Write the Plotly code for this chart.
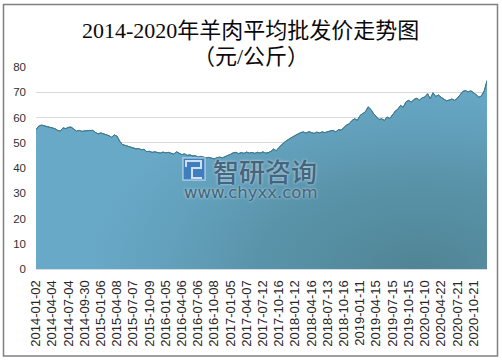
import plotly.graph_objects as go

tick_labels = ["2014-01-02","2014-04-04","2014-07-04","2014-09-30","2015-01-06","2015-04-08","2015-07-07",
               "2015-10-09","2016-01-05","2016-04-06","2016-07-06","2016-10-08","2017-01-05","2017-04-07",
               "2017-07-12","2017-10-16","2018-01-12","2018-04-16","2018-07-13","2018-10-16","2019-01-11",
               "2019-04-15","2019-07-15","2019-10-15","2020-01-10","2020-04-22","2020-07-21","2020-10-21"]
prices = [55.2,56.6,57.0,56.7,56.2,56.0,55.8,55.6,54.9,
          54.6,55.9,55.6,56.1,56.2,55.4,54.6,54.9,54.5,
          54.7,54.8,54.6,54.9,54.1,53.5,53.9,53.6,53.0,
          52.8,52.2,53.1,52.6,50.6,49.3,49.0,48.7,48.2,
          48.0,47.6,47.7,47.2,47.4,46.5,46.6,46.2,46.4,
          46.1,45.9,46.3,46.0,46.2,45.8,45.5,46.4,45.9,
          45.3,45.6,45.0,45.2,44.8,44.9,44.3,44.6,44.2,
          44.0,44.2,43.8,43.6,44.1,44.3,44.0,44.6,45.0,
          45.4,46.0,46.2,45.7,46.1,45.8,46.3,45.9,46.2,
          45.8,46.2,45.9,46.4,45.9,46.1,46.6,47.5,46.8,
          48.2,49.4,50.2,51.0,51.8,52.3,52.9,53.5,54.0,
          54.3,53.8,54.4,54.1,53.7,54.2,53.9,54.3,54.0,
          54.4,54.6,54.9,54.3,55.2,55.0,56.2,57.0,57.5,
          58.8,59.5,58.9,60.8,61.5,62.3,64.2,63.2,61.5,
          60.3,59.2,59.5,58.8,60.2,59.6,61.0,62.5,63.3,
          64.8,64.0,66.2,66.8,66.1,67.2,67.6,66.9,67.8,
          68.1,69.4,67.4,69.8,68.3,68.9,68.0,67.2,66.6,
          66.9,67.3,66.8,67.6,68.9,70.3,70.7,70.1,70.6,
          69.9,69.0,68.0,68.6,70.6,74.6]
y_ticks = [0,10,20,30,40,50,60,70,80]
title_lines = ["2014-2020年羊肉平均批发价走势图", "（元/公斤）"]

W, H = 502, 360
L, R, T, B = 36, 487, 67, 269
px = lambda x: (x - L) / (R - L)
py = lambda y: (B - y) / (B - T)
x = list(range(len(prices)))

# Glow of the fill: an off-axis polygon whose bounding box is centred on the lower right of the plot
glow_left, glow_center = 20, 142
glow_x = x[glow_left:] + [2*glow_center - glow_left, glow_center, glow_left]
glow_y = prices[glow_left:] + [0, -max(prices), 0]

fig = go.Figure()
fig.add_trace(go.Scatter(x=x, y=prices, mode="lines", fill="tozeroy",
    line=dict(color="#3f7a92", width=1), hoverinfo="skip", fillcolor="#68a9c7"))
fig.add_trace(go.Scatter(x=glow_x, y=glow_y, mode="none", fill="toself", hoverinfo="skip",
    fillgradient=dict(type="radial", colorscale=[
        [0, "rgba(70,118,128,0.72)"], [0.5, "rgba(72,122,135,0.45)"], [1, "rgba(80,130,150,0)"]])))
fig.add_trace(go.Scatter(x=x, y=prices, mode="lines", line=dict(color="#3f7a92", width=1), hoverinfo="skip"))

def text(label, cx, cy, **font):
    return dict(text=label, xref="paper", yref="paper", x=px(cx), y=py(cy), showarrow=False,
                xanchor="center", yanchor="middle", font=font)

fig.update_layout(
    width=W, height=H, margin=dict(l=L, r=W-R, t=T, b=H-B, pad=0),
    paper_bgcolor="white", plot_bgcolor="white", showlegend=False,
    font=dict(family="Liberation Sans", color="#404040"),
    xaxis=dict(range=[0, len(prices)-1], tickmode="array", tickvals=x[::6][:len(tick_labels)], ticktext=tick_labels,
               tickangle=-90, ticks="", showgrid=False, zeroline=False, showline=True,
               linecolor="#d4dbe3", linewidth=1, ticklabelstandoff=5,
               tickfont=dict(size=13, color="#262626", family="Liberation Sans")),
    yaxis=dict(range=[0, 80], tickvals=y_ticks, ticks="", showgrid=True, gridcolor="#d9d9d9", gridwidth=1,
               zeroline=False, showline=False, ticklabelstandoff=9,
               tickfont=dict(size=11.5, color="#303030", family="Liberation Sans")),
    shapes=[
        dict(type="rect", xref="paper", yref="paper", x0=px(3.5), x1=px(497.5), y0=py(4.5), y1=py(356),
             line=dict(color="#808080", width=1.5), fillcolor="rgba(0,0,0,0)", layer="below"),
        dict(type="rect", xref="paper", yref="paper", x0=px(183), x1=px(205), y0=py(158), y1=py(180),
             line=dict(color="rgba(225,235,245,0.6)", width=1.5), fillcolor="#3f7fc0", layer="above"),
        dict(type="path", xref="paper", yref="paper", layer="above", fillcolor="rgba(0,0,0,0)",
             line=dict(color="#cfe0ee", width=2),
             path=f"M {px(186)} {py(167)} L {px(186)} {py(161)} L {px(201)} {py(161)} L {px(201)} {py(168)} "
                  f"L {px(192)} {py(168)} L {px(192)} {py(178)} L {px(202)} {py(178)}"),
    ],
    annotations=[
        text(title_lines[0], 250.5, 30, family="Liberation Serif, Noto Sans CJK SC", size=22, color="#0a0a0a"),
        text(title_lines[1], 250.5, 57, family="Liberation Serif, Noto Sans CJK SC", size=22, color="#0a0a0a"),
        text("智研咨询", 265, 170, family="Noto Sans CJK SC", size=26, color="#44657b", weight=500,
             shadow="0 0 3px rgba(225,235,245,0.9)"),
        text("www.chyxx.com", 251, 192, family="DejaVu Sans", size=16.5, color="#44657b",
             shadow="0 0 3px rgba(225,235,245,0.9)"),
    ],
)
fig.write_html("out.html", config=dict(displayModeBar=False), post_script="document.body.style.margin='0';")
